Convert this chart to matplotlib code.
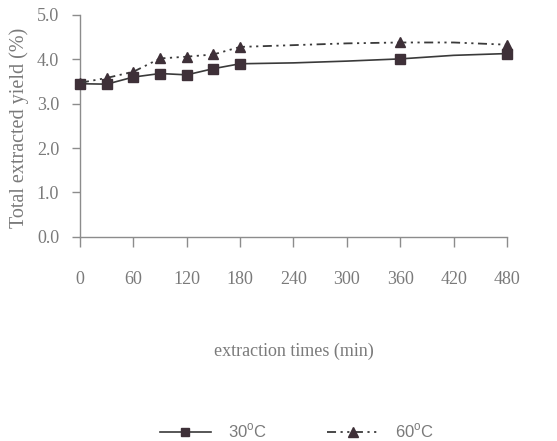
import matplotlib
matplotlib.use("Agg")
import matplotlib.pyplot as plt
from matplotlib.lines import Line2D

# extraction time (min) and total extracted yield (%)
times = [0, 30, 60, 90, 120, 150, 180, 240, 300, 360, 420, 480]
yield_30 = [3.45, 3.44, 3.60, 3.68, 3.65, 3.79, 3.90, 3.92, 3.96, 4.01, 4.09, 4.13]
yield_60 = [3.47, 3.58, 3.72, 4.02, 4.06, 4.11, 4.28, 4.32, 4.36, 4.38, 4.38, 4.33]
# sampling points that carry a marker
marked = [0, 1, 2, 3, 4, 5, 6, 9, 11]

x_ticks = [0, 60, 120, 180, 240, 300, 360, 420, 480]
y_ticks = [0.0, 1.0, 2.0, 3.0, 4.0, 5.0]
labels = ["30$^{\\rm o}$C", "60$^{\\rm o}$C"]

text_gray = "#7a7a7a"
axis_gray = "#8c8c8c"
line_dark = "#3a3a3a"
marker_dark = "#3e3038"

plt.rcParams["mathtext.fontset"] = "custom"
plt.rcParams["mathtext.rm"] = "Liberation Sans"

fig = plt.figure(figsize=(5.57, 4.41), dpi=100)
fig.patch.set_facecolor("white")
ax = fig.add_axes([0.1436, 0.4633, 0.7666, 0.5027])

dashdotdot = (0, (5, 2.5, 1.2, 2.5, 1.2, 2.5))

ax.plot(times, yield_30, color=line_dark, lw=1.2, marker="s", ms=6.5,
        markevery=marked, mfc=marker_dark, mec=marker_dark, zorder=3,
        clip_on=False)
ax.plot(times, yield_60, color=line_dark, lw=1.3, linestyle=dashdotdot,
        marker="^", ms=7.5, markevery=marked, mfc=marker_dark,
        mec=marker_dark, zorder=3, clip_on=False)

ax.set_xlim(0, 480)
ax.set_ylim(0, 5.0)
ax.set_xticks(x_ticks)
ax.set_xticklabels([str(v) for v in x_ticks])
ax.set_yticks(y_ticks)
ax.set_yticklabels([f"{v:.1f}" for v in y_ticks])

for side in ("top", "right"):
    ax.spines[side].set_visible(False)
for side in ("left", "bottom"):
    ax.spines[side].set_color(axis_gray)
    ax.spines[side].set_linewidth(1.0)

serif = ["Liberation Serif", "DejaVu Serif"]
ax.tick_params(axis="x", direction="out", length=7, width=1.0, color=axis_gray,
               pad=17.5, labelsize=13, labelcolor=text_gray)
ax.tick_params(axis="y", direction="out", length=6, width=1.0, color=axis_gray,
               pad=9, labelsize=13, labelcolor=text_gray)
for lab in ax.get_xticklabels() + ax.get_yticklabels():
    lab.set_family(serif)

ax.set_xlabel("extraction times (min)", family=serif, fontsize=13,
              color=text_gray, labelpad=39.5)
ax.set_ylabel("Total extracted yield (%)", family=serif, fontsize=14.5,
              color=text_gray)
ax.yaxis.set_label_coords(-0.119, 0.49)

handles = [
    Line2D([], [], color=line_dark, lw=1.2, marker="s", ms=6,
           mfc=marker_dark, mec=marker_dark),
    Line2D([], [], color=line_dark, lw=1.3, linestyle=dashdotdot, marker="^",
           ms=7, mfc=marker_dark, mec=marker_dark),
]
leg = fig.legend(handles, labels, loc="center", bbox_to_anchor=(0.533, 0.022),
                 ncol=2, frameon=False, handlelength=3.1, handletextpad=1.0,
                 columnspacing=3.6,
                 prop={"family": ["Liberation Sans", "DejaVu Sans"], "size": 12})
for t in leg.get_texts():
    t.set_color(text_gray)

fig.savefig("out.png", dpi=100, facecolor="white")
